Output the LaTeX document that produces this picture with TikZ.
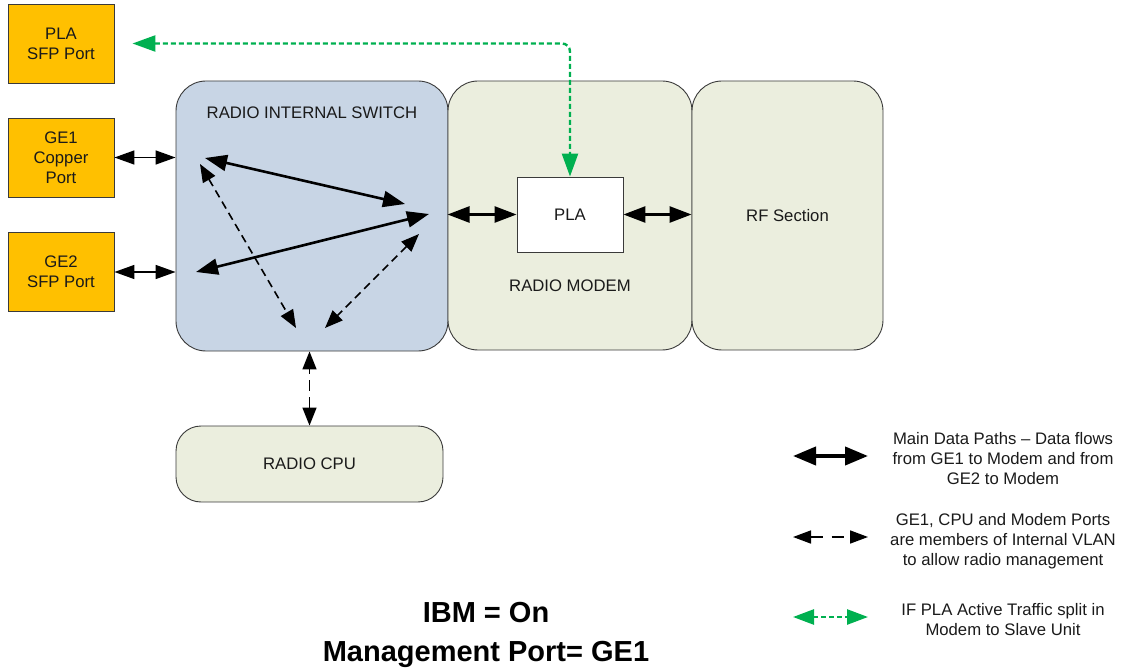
\documentclass[tikz,border=0pt]{standalone}
\usepackage{fontspec}
\setmainfont{Liberation Sans}
\usetikzlibrary{arrows.meta}
\definecolor{portY}{HTML}{FFC000}
\definecolor{swBlue}{HTML}{C8D5E5}
\definecolor{modemG}{HTML}{EBEEDE}
\definecolor{plaGreen}{HTML}{00B050}
\definecolor{txt}{HTML}{1A1A1A}
\definecolor{edge}{HTML}{3A3A3A}
\begin{document}
\begin{tikzpicture}[x=1pt,y=-1pt,
  font=\fontsize{16.7}{20}\selectfont, text=txt,
  portbox/.style={draw=edge, line width=0.9pt, fill=portY, minimum width=106pt, minimum height=79pt, inner sep=0pt, align=center},
  blockbox/.style={draw=edge, line width=0.9pt, inner sep=0pt, align=center},
  plain/.style={align=center, inner sep=0pt},
  thinlink/.style={line width=1.6pt, {Triangle[length=20pt,width=14pt]}-{Triangle[length=20pt,width=14pt]}},
  thicklink/.style={line width=2.6pt, {Triangle[length=22pt,width=16pt]}-{Triangle[length=22pt,width=16pt]}},
  dashlink/.style={line width=1.6pt, dash pattern=on 8pt off 5pt, {Triangle[length=18pt,width=14pt]}-{Triangle[length=18pt,width=14pt]}},
  greenlink/.style={draw=plaGreen, line width=2.4pt, dash pattern=on 5pt off 3pt, {Triangle[length=23pt,width=16pt]}-{Triangle[length=23pt,width=16pt]}, color=plaGreen}
]
\useasboundingbox (0,0) rectangle (1125,671);

% port boxes
\node[portbox] (plaport) at (61,43.5) {PLA\\SFP Port};
\node[portbox] (ge1) at (61,157.5) {GE1\\Copper\\Port};
\node[portbox] (ge2) at (61,272) {GE2\\SFP Port};

% main blocks
\node[blockbox, fill=swBlue, rounded corners=30pt, minimum width=272pt, minimum height=270pt,
  label={[plain, anchor=center, yshift=-32pt]north:RADIO INTERNAL SWITCH}] (sw) at (312,216) {};
\node[blockbox, fill=modemG, rounded corners=30pt, minimum width=244pt, minimum height=269pt,
  label={[plain, anchor=center, yshift=65pt]south:RADIO MODEM}] (modem) at (570,215.5) {};
\node[blockbox, fill=modemG, rounded corners=30pt, minimum width=191pt, minimum height=269pt] (rf) at (787.5,215.5) {RF Section};
\node[blockbox, fill=white, minimum width=106pt, minimum height=75pt] (pla) at (570,214.5) {PLA};
\node[blockbox, fill=modemG, rounded corners=25pt, minimum width=267pt, minimum height=76pt] (cpu) at (309.5,464) {RADIO CPU};

% external links
\draw[thinlink] (ge1.east) -- (ge1.east -| sw.west);
\draw[thinlink] (ge2.east) -- (ge2.east -| sw.west);
\draw[thicklink] (pla.west -| modem.west) -- (pla.west);
\draw[thicklink] (pla.east) -- (pla.east -| rf.west);
\draw[dashlink, dash pattern=on 11pt off 6pt] (cpu.north) -- (cpu.north |- sw.south);
\draw[greenlink, rounded corners=8pt, shorten <=18pt] (plaport.east) -| (pla.north);

% internal switch paths
\coordinate (a1) at (205,158);
\coordinate (a2) at (405,204);
\coordinate (b1) at (196,272);
\coordinate (b2) at (429,214);
\coordinate (c1) at (200,164);
\coordinate (c2) at (296,328);
\coordinate (d1) at (419,234);
\coordinate (d2) at (325,328);
\draw[thicklink] (a1) -- (a2);
\draw[thicklink] (b1) -- (b2);
\draw[dashlink] (c1) -- (c2);
\draw[dashlink] (d1) -- (d2);

% legend
\coordinate (l1a) at (793,456);
\coordinate (l1b) at (868,456);
\coordinate (l2a) at (793,537);
\coordinate (l2b) at (868,537);
\coordinate (l3a) at (793,617);
\coordinate (l3b) at (868,617);
\draw[line width=4pt, {Triangle[length=23pt,width=18pt]}-{Triangle[length=23pt,width=18pt]}] (l1a) -- (l1b);
\draw[line width=1.6pt, dash pattern=on 12pt off 9pt, {Triangle[length=18pt,width=13pt]}-{Triangle[length=18pt,width=13pt]}] (l2a) -- (l2b);
\draw[plaGreen, line width=2.6pt, dash pattern=on 5pt off 3pt, {Triangle[length=21pt,width=15pt]}-{Triangle[length=21pt,width=15pt]}] (l3a) -- (l3b);
\node[plain] (t1) at (1003,459) {Main Data Paths -- Data flows\\from GE1 to Modem and from\\GE2 to Modem};
\node[plain] (t2) at (1003,541) {GE1, CPU and Modem Ports\\are members of Internal VLAN\\to allow radio management};
\node[plain] (t3) at (1003,620) {IF PLA Active Traffic split in\\Modem to Slave Unit};

% caption
\node[plain, font=\fontsize{29}{39}\selectfont\bfseries, text=black] (cap) at (486,635) {IBM = On\\Management Port= GE1};
\end{tikzpicture}
\end{document}
